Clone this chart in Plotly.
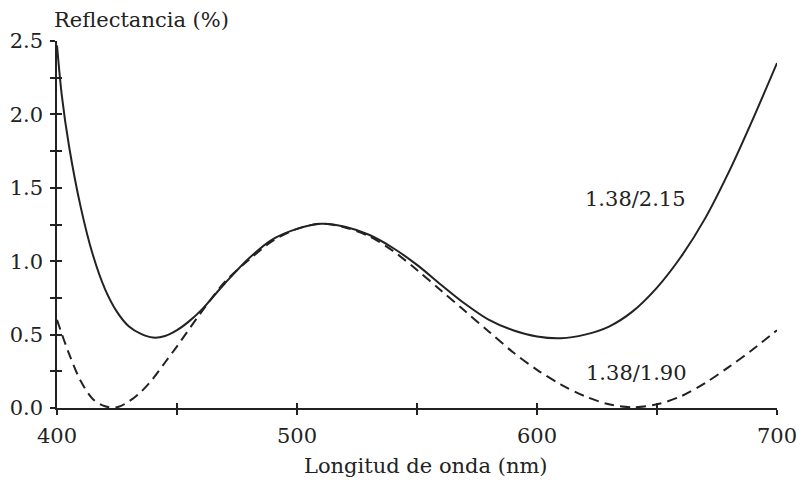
import plotly.graph_objects as go

# Wavelength samples (nm) and reflectance (%)
wl_solid = [400, 402, 405, 410, 415, 420, 425, 430, 435, 440, 445, 450, 455, 460, 470, 480, 490,
            500, 510, 520, 530, 540, 550, 560, 570, 580, 590, 600, 610, 620, 630, 640, 650,
            660, 670, 680, 690, 700]
r_215 = [2.47, 2.13, 1.785, 1.36, 1.04, 0.81, 0.655, 0.555, 0.505, 0.48, 0.49, 0.53, 0.59, 0.665,
         0.85, 1.02, 1.15, 1.22, 1.255, 1.235, 1.18, 1.09, 0.975, 0.84, 0.71, 0.60, 0.53, 0.487,
         0.475, 0.50, 0.555, 0.66, 0.82, 1.03, 1.29, 1.61, 1.97, 2.35]

wl_dash = [400, 405, 410, 415, 420, 425, 430, 435, 440, 445, 450, 460, 470, 480, 490, 500,
           510, 520, 530, 540, 550, 560, 570, 580, 590, 600, 610, 620, 630, 640, 650, 660,
           670, 680, 690, 700]
r_190 = [0.60, 0.37, 0.18, 0.06, 0.012, 0.005, 0.045, 0.11, 0.20, 0.31, 0.42, 0.65, 0.86,
         1.01, 1.14, 1.22, 1.255, 1.23, 1.17, 1.07, 0.94, 0.80, 0.66, 0.52, 0.38, 0.26, 0.16,
         0.08, 0.025, 0.005, 0.025, 0.08, 0.17, 0.28, 0.40, 0.53]

x_tickvals = [400, 450, 500, 550, 600, 650, 700]
x_ticktext = ["400", "", "500", "", "600", "", "700"]
y_tickvals = [0, 0.25, 0.5, 0.75, 1.0, 1.25, 1.5, 1.75, 2.0, 2.25, 2.5]
y_ticktext = ["0.0", "", "0.5", "", "1.0", "", "1.5", "", "2.0", "", "2.5"]

labels = ["1.38/2.15", "1.38/1.90"]
label_x = [641, 641.5]
label_y = [1.425, 0.24]

FONT = "DejaVu Serif"
FS = 21
INK = "#222222"
XR = [400, 700]
YR = [0, 2.5]

fig = go.Figure()
fig.add_trace(go.Scatter(x=wl_solid, y=r_215, mode="lines",
                         line=dict(color=INK, width=2, shape="spline", smoothing=0.9),
                         showlegend=False, hoverinfo="skip"))
fig.add_trace(go.Scatter(x=wl_dash, y=r_190, mode="lines",
                         line=dict(color=INK, width=2, shape="spline", smoothing=0.9, dash="10px,6px"),
                         showlegend=False, hoverinfo="skip"))
# dummy trace to activate the overlay axes used for inward tick halves
fig.add_trace(go.Scatter(x=[None], y=[None], xaxis="x2", yaxis="y2", showlegend=False, hoverinfo="skip"))

for t, xv, yv in zip(labels, label_x, label_y):
    fig.add_annotation(x=xv, y=yv, text=t, showarrow=False, xanchor="center", yanchor="middle",
                       font=dict(family=FONT, size=FS, color=INK))

fig.add_annotation(x=0.117, y=1.057, xref="paper", yref="paper", text="Reflectancia (%)", showarrow=False,
                   xanchor="center", yanchor="middle", font=dict(family=FONT, size=FS, color=INK))
fig.add_annotation(x=0.5125, y=-0.158, xref="paper", yref="paper", text="Longitud de onda (nm)",
                   showarrow=False, xanchor="center", yanchor="middle",
                   font=dict(family=FONT, size=FS, color=INK))

common = dict(showgrid=False, zeroline=False, linecolor=INK, linewidth=1.5, tickcolor=INK, tickwidth=1.5,
              automargin=False)
fig.update_layout(
    width=805, height=486,
    margin=dict(l=57, r=28, t=41, b=78),
    paper_bgcolor="white", plot_bgcolor="white",
    font=dict(family=FONT, size=FS, color=INK),
    xaxis=dict(range=XR, tickmode="array", tickvals=x_tickvals, ticktext=x_ticktext,
               ticks="outside", ticklen=5, showline=True, ticklabelstandoff=3, **common),
    yaxis=dict(range=YR, tickmode="array", tickvals=y_tickvals, ticktext=y_ticktext,
               ticks="outside", ticklen=5, showline=True, ticklabelstandoff=3, **common),
    xaxis2=dict(range=XR, overlaying="x", anchor="y2", tickmode="array", tickvals=x_tickvals,
                showticklabels=False, ticks="inside", ticklen=5, showline=False, showgrid=False,
                zeroline=False, tickcolor=INK, tickwidth=1.5, automargin=False),
    yaxis2=dict(range=YR, overlaying="y", anchor="x2", tickmode="array", tickvals=y_tickvals,
                showticklabels=False, ticks="inside", ticklen=5, showline=False, showgrid=False,
                zeroline=False, tickcolor=INK, tickwidth=1.5, automargin=False),
)

fig.write_html("out.html")
